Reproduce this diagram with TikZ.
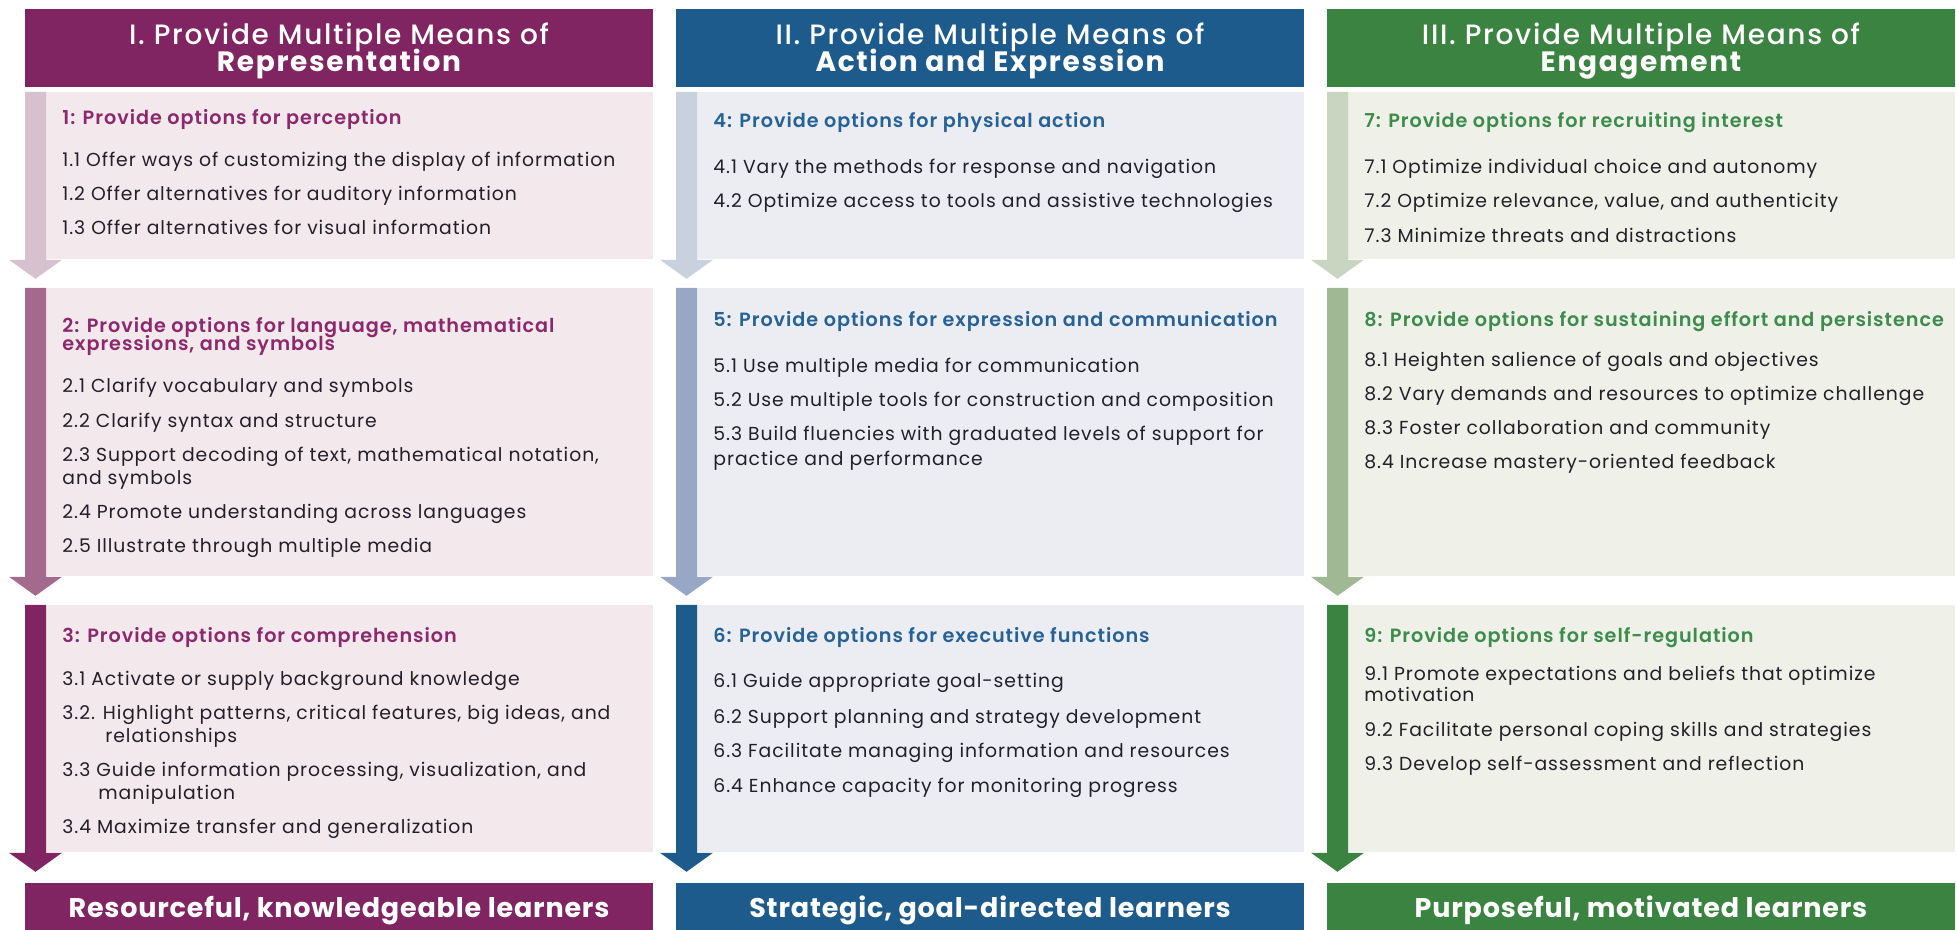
\documentclass[tikz,border=0pt]{standalone}
\usepackage{fontspec}
\setmainfont{Poppins}
\newfontfamily\midfont{Poppins Medium}
\newfontfamily\semifont{Poppins SemiBold}

\definecolor{main1}{RGB}{128,37,97}
\definecolor{main2}{RGB}{29,91,140}
\definecolor{main3}{RGB}{59,131,64}
\definecolor{bg1}{RGB}{243,232,236}
\definecolor{bg2}{RGB}{236,237,242}
\definecolor{bg3}{RGB}{239,240,232}
\definecolor{arA1}{RGB}{216,193,207}
\definecolor{arB1}{RGB}{164,106,142}
\definecolor{arA2}{RGB}{201,209,223}
\definecolor{arB2}{RGB}{151,167,197}
\definecolor{arA3}{RGB}{201,213,192}
\definecolor{arB3}{RGB}{160,184,148}
\definecolor{sub1}{RGB}{139,41,108}
\definecolor{sub2}{RGB}{38,98,150}
\definecolor{sub3}{RGB}{60,140,78}
\definecolor{ink}{RGB}{35,31,40}

\begin{document}
\begin{tikzpicture}[
		x={(0.5pt,0pt)},
		y={(0pt,-0.5pt)},
		band/.style={fill=#1,inner sep=0pt,minimum width=314pt,anchor=north west},
		panel/.style={fill=#1,inner sep=0pt,minimum width=303.5pt,anchor=north west},
		headtxt/.style={text=white,anchor=base,inner sep=0pt},
		subtxt/.style={text=#1,anchor=base west,inner sep=0pt,font=\semifont\fontsize{9.6}{10}\selectfont\addfontfeature{LetterSpace=5}},
		itemtxt/.style={text=ink,anchor=base west,inner sep=0pt,font=\fontsize{9.4}{10}\selectfont\addfontfeature{LetterSpace=5}},
	]
		\useasboundingbox (0,0) rectangle (1956,930);
		
		\foreach \c/\L/\num/\what/\foot in {1/25/I/Representation/{Resourceful, knowledgeable learners},
			2/676/II/Action and Expression/{Strategic, goal-directed learners},
			3/1327/III/Engagement/{Purposeful, motivated learners}}{
			\node[band=main\c,minimum height=39pt] (head\c) at (\L,9) {};
			\node[headtxt,font=\midfont\fontsize{14}{14}\selectfont\addfontfeature{LetterSpace=6}] (headA\c) at (\L+314,45) {\num. Provide Multiple Means of};
			\node[headtxt,font=\bfseries\fontsize{14}{14}\selectfont\addfontfeature{LetterSpace=6}] (headB\c) at (\L+314,72) {\what};
			\node[band=main\c,minimum height=30pt] (foot\c) at (\L,883) {};
			\node[headtxt,font=\bfseries\fontsize{13.5}{14}\selectfont\addfontfeature{LetterSpace=3}] (footT\c) at (\L+314,917) {\foot};
		}
		
		\foreach \c/\L in {1/25,2/676,3/1327}{
			\foreach \r/\top/\h/\ar in {1/92/83.5/arA\c, 2/288/144/arB\c, 3/605/123.5/main\c}{
				\node[panel=bg\c,minimum height=\h pt] (box\c\r) at (\L+21,\top) {};
				\fill[\ar] (box\c\r.north west) -- (box\c\r.south west) -- ++(16,0) -- ++(-26.5,19)
					-- ++(-26.5,-19) -- ++(16,0) |- (box\c\r.north west) -- cycle;
			}
		}
		
		\foreach \c/\y/\t [count=\i] in {1/119/{1: Provide options for perception},
			1/327/{2: Provide options for language, mathematical},
			1/345/{expressions, and symbols},
			1/637/{3: Provide options for comprehension},
			2/122/{4: Provide options for physical action},
			2/321/{5: Provide options for expression and communication},
			2/637/{6: Provide options for executive functions},
			3/122/{7: Provide options for recruiting interest},
			3/321/{8: Provide options for sustaining effort and persistence},
			3/637/{9: Provide options for self-regulation}}{
			\node[subtxt=sub\c] (sub\i) at ({62+(\c-1)*651},\y+6) {\t};
		}
		
		\foreach \c/\y/\dx/\t [count=\i] in {1/161/0/{1.1 Offer ways of customizing the display of information},
			1/195/0/{1.2 Offer alternatives for auditory information},
			1/229/0/{1.3 Offer alternatives for visual information},
			1/387/0/{2.1 Clarify vocabulary and symbols},
			1/422/0/{2.2 Clarify syntax and structure},
			1/456/0/{2.3 Support decoding of text, mathematical notation,},
			1/479/0/{and symbols},
			1/513/0/{2.4 Promote understanding across languages},
			1/547/0/{2.5 Illustrate through multiple media},
			1/679/0/{3.1 Activate or supply background knowledge},
			1/713/0/{3.2. Highlight patterns, critical features, big ideas, and},
			1/736/43/{relationships},
			1/770/0/{3.3 Guide information processing, visualization, and},
			1/793/36/{manipulation},
			1/827/0/{3.4 Maximize transfer and generalization},
			2/168/0/{4.1 Vary the methods for response and navigation},
			2/202/0/{4.2 Optimize access to tools and assistive technologies},
			2/367/0/{5.1 Use multiple media for communication},
			2/401/0/{5.2 Use multiple tools for construction and composition},
			2/435/0/{5.3 Build fluencies with graduated levels of support for},
			2/460/0/{practice and performance},
			2/682/0/{6.1 Guide appropriate goal-setting},
			2/717/0/{6.2 Support planning and strategy development},
			2/751/0/{6.3 Facilitate managing information and resources},
			2/786/0/{6.4 Enhance capacity for monitoring progress},
			3/168/0/{7.1 Optimize individual choice and autonomy},
			3/202/0/{7.2 Optimize relevance, value, and authenticity},
			3/237/0/{7.3 Minimize threats and distractions},
			3/361/0/{8.1 Heighten salience of goals and objectives},
			3/395/0/{8.2 Vary demands and resources to optimize challenge},
			3/429/0/{8.3 Foster collaboration and community},
			3/463/0/{8.4 Increase mastery-oriented feedback},
			3/675/0/{9.1 Promote expectations and beliefs that optimize},
			3/696/0/{motivation},
			3/730/0/{9.2 Facilitate personal coping skills and strategies},
			3/764/0/{9.3 Develop self-assessment and reflection}}{
			\node[itemtxt] (item\i) at ({62+(\c-1)*651+\dx},\y+6) {\t};
		}
	\end{tikzpicture}
\end{document}
